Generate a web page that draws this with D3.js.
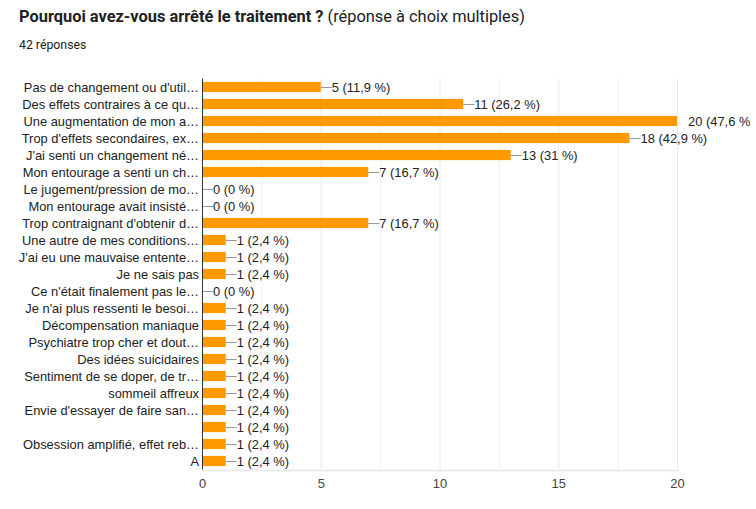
<!DOCTYPE html>
<html><head><meta charset="utf-8">
<script src="https://cdn.jsdelivr.net/npm/d3@7"></script>
<style>body{margin:0;background:#fff;} svg{display:block;}</style>
</head><body><svg id="c" width="756" height="509"></svg>
<script>
const categories = [
 "Pas de changement ou d'util\u2026",
 "Des effets contraires à ce qu\u2026",
 "Une augmentation de mon a\u2026",
 "Trop d'effets secondaires, ex\u2026",
 "J'ai senti un changement né\u2026",
 "Mon entourage a senti un ch\u2026",
 "Le jugement/pression de mo\u2026",
 "Mon entourage avait insisté\u2026",
 "Trop contraignant d'obtenir d\u2026",
 "Une autre de mes conditions\u2026",
 "J'ai eu une mauvaise entente\u2026",
 "Je ne sais pas",
 "Ce n'était finalement pas le\u2026",
 "Je n'ai plus ressenti le besoi\u2026",
 "Décompensation maniaque",
 "Psychiatre trop cher et dout\u2026",
 "Des idées suicidaires",
 "Sentiment de se doper, de tr\u2026",
 "sommeil affreux",
 "Envie d'essayer de faire san\u2026",
 "",
 "Obsession amplifié, effet reb\u2026",
 "A"
];
const counts = [5,11,20,18,13,7,0,0,7,1,1,1,0,1,1,1,1,1,1,1,1,1,1];
const percents = ["11,9","26,2","47,6","42,9","31","16,7","0","0","16,7","2,4","2,4","2,4","0","2,4","2,4","2,4","2,4","2,4","2,4","2,4","2,4","2,4","2,4"];
const xTicks = [0,5,10,15,20];
const gridValues = [2.5,5,7.5,10,12.5,15,17.5,20];

const svg = d3.select("#c");
const pL = 202, pR = 677, pT = 78.5, pB = 469.5;
const FS = 12.9;
const x = d3.scaleLinear().domain([0,20]).range([pL,pR]);
const y = d3.scaleBand().domain(d3.range(categories.length)).range([pT,pB]).paddingInner(0.4).paddingOuter(0.2);

// title
const t = svg.append("text").attr("x",19).attr("y",22).attr("font-family","Roboto, Arial, sans-serif").attr("font-size",16.4).attr("fill","#202124");
t.append("tspan").attr("font-weight","bold").text("Pourquoi avez-vous arrêté le traitement ? ");
t.append("tspan").text("(réponse à choix multiples)");
svg.append("text").attr("x",19).attr("y",49).attr("font-family","Roboto, Arial, sans-serif").attr("font-size",12.3).attr("fill","#202124").text("42 réponses");

// grid
svg.append("g").selectAll("line").data(gridValues).join("line")
 .attr("x1",d=>x(d)+0.5).attr("x2",d=>x(d)+0.5).attr("y1",pT).attr("y2",pB)
 .attr("stroke",d=>d%5===0?"#e8e8e8":"#f0f0f0").attr("stroke-width",1);
svg.append("line").attr("x1",pL).attr("x2",pR+2).attr("y1",pB+1).attr("y2",pB+1).attr("stroke","#ebebeb").attr("stroke-width",2);

svg.append("defs").append("clipPath").attr("id","clp").append("rect").attr("x",0).attr("y",0).attr("width",750).attr("height",509);
const g = svg.append("g").attr("clip-path","url(#clp)");

// bars
g.selectAll("rect.bar").data(counts).join("rect").attr("class","bar")
 .attr("x",x(0)).attr("y",(d,i)=>y(i)).attr("width",d=>x(d)-x(0)).attr("height",y.bandwidth())
 .attr("fill","#ff9900");

// leader lines + labels
g.selectAll("line.lead").data(counts).join("line").attr("class","lead")
 .attr("x1",d=>x(d)).attr("x2",d=>x(d)+11).attr("y1",(d,i)=>y(i)+y.bandwidth()/2+0.5).attr("y2",(d,i)=>y(i)+y.bandwidth()/2+0.5)
 .attr("stroke",(d)=>d===20?"#ffffff":"#999").attr("stroke-width",1);
g.selectAll("text.val").data(counts).join("text").attr("class","val")
 .attr("x",d=>x(d)+11).attr("y",(d,i)=>y(i)+y.bandwidth()/2).attr("dy","0.36em")
 .attr("font-family","Liberation Sans, Arial, sans-serif").attr("font-size",FS).attr("fill","#222")
 .text((d,i)=>d+" ("+percents[i]+" %)");

// category labels
svg.selectAll("text.cat").data(categories).join("text").attr("class","cat")
 .attr("x",pL-3).attr("y",(d,i)=>y(i)+y.bandwidth()/2).attr("dy","0.36em").attr("text-anchor","end")
 .attr("font-family","Liberation Sans, Arial, sans-serif").attr("font-size",FS).attr("fill","#222")
 .text(d=>d);

// axis line
svg.append("line").attr("x1",pL+0.5).attr("x2",pL+0.5).attr("y1",pT).attr("y2",pB).attr("stroke","#333").attr("stroke-width",1);

// x axis
const ax = svg.append("g").attr("transform",`translate(0,${pB})`)
 .call(d3.axisBottom(x).tickValues(xTicks).tickSize(0).tickPadding(9));
ax.select(".domain").remove();
ax.selectAll("text").attr("font-family","Liberation Sans, Arial, sans-serif").attr("font-size",FS).attr("fill","#444");
</script></body></html>
